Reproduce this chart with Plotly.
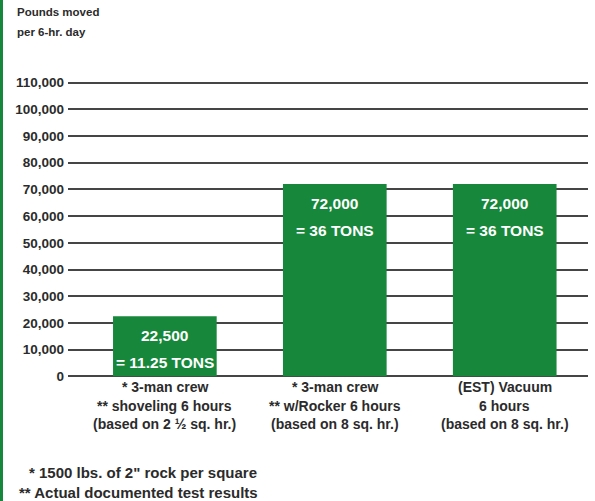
import plotly.graph_objects as go

categories = ["Shoveling", "Rocker", "Vacuum"]
values = [22500, 72000, 72000]
value_labels = ["22,500", "72,000", "72,000"]
ton_labels = ["= 11.25 TONS", "= 36 TONS", "= 36 TONS"]
category_lines = [
    ["* 3-man crew", "** shoveling 6 hours", "(based on 2 ½ sq. hr.)"],
    ["* 3-man crew", "** w/Rocker 6 hours", "(based on 8 sq. hr.)"],
    ["(EST) Vacuum", "6 hours", "(based on 8 sq. hr.)"],
]
tick_vals = list(range(0, 110001, 10000))
tick_text = [f"{v:,}" for v in tick_vals]
y_title_lines = ["Pounds moved", "per 6-hr. day"]
footnotes = ["* 1500 lbs. of 2\" rock per square", "** Actual documented test results"]

GREEN = "#17883b"
TXT = "#2b2b2b"
FONT = "Liberation Sans, Arial, sans-serif"

W, H = 595, 501
ml, mr, mt, mb = 68, 7, 80, 122
pw = W - ml - mr
ph = H - mt - mb

fig = go.Figure()
fig.add_trace(go.Bar(
    x=categories, y=values, marker=dict(color=GREEN, line=dict(width=0)),
    width=0.61, hoverinfo="skip",
))

ann = []
for c, v, l1, l2 in zip(categories, values, value_labels, ton_labels):
    ann.append(dict(x=c, y=v, xref="x", yref="y", text=f"<b>{l1}</b>", showarrow=False,
                    yanchor="middle", yshift=-19, font=dict(family=FONT, size=15.5, color="white")))
    ann.append(dict(x=c, y=v, xref="x", yref="y", text=f"<b>{l2}</b>", showarrow=False,
                    yanchor="middle", yshift=-46, font=dict(family=FONT, size=15.5, color="white")))

for c, lines in zip(categories, category_lines):
    for i, line in enumerate(lines):
        ann.append(dict(x=c, y=0, xref="x", yref="paper", text=f"<b>{line}</b>", showarrow=False,
                        yanchor="middle", yshift=-8 - 18.5 * i,
                        font=dict(family=FONT, size=14, color=TXT)))

for i, line in enumerate(y_title_lines):
    ann.append(dict(x=(15 - ml) / pw, y=1, xref="paper", yref="paper", text=f"<b>{line}</b>",
                    showarrow=False, xanchor="left", yanchor="middle",
                    yshift=(mt - 12 - 20 * i),
                    font=dict(family=FONT, size=11.5, color=TXT)))

foot_x = [27, 17]
for i, line in enumerate(footnotes):
    ann.append(dict(x=(foot_x[i] - ml) / pw, y=0, xref="paper", yref="paper", text=f"<b>{line}</b>",
                    showarrow=False, xanchor="left", yanchor="middle",
                    yshift=-(472 + 20 * i - (H - mb)),
                    font=dict(family=FONT, size=15, color=TXT)))

fig.update_layout(
    width=W, height=H,
    margin=dict(l=ml, r=mr, t=mt, b=mb),
    paper_bgcolor="white", plot_bgcolor="white",
    showlegend=False,
    xaxis=dict(range=[-0.57, 2.49], showticklabels=False, showgrid=False, zeroline=False,
               showline=False, ticks="", fixedrange=True),
    yaxis=dict(range=[-1000, 111000], tickvals=tick_vals, ticktext=tick_text,
               showgrid=True, gridcolor="#454545", gridwidth=1.6, zeroline=False,
               showline=False, ticks="", ticklabelstandoff=3, automargin=False,
               fixedrange=True,
               tickfont=dict(family=FONT, size=13.5, color=TXT, weight="bold")),
    annotations=ann,
    shapes=[dict(type="rect", xref="paper", yref="paper",
                 x0=-ml / pw, x1=(3 - ml) / pw, y0=-mb / ph, y1=1 + mt / ph,
                 fillcolor=GREEN, line=dict(width=0), layer="above")],
)

fig.write_html("out.html", config={"displayModeBar": False},
               post_script="document.body.style.margin='0';document.body.style.overflow='hidden';")
